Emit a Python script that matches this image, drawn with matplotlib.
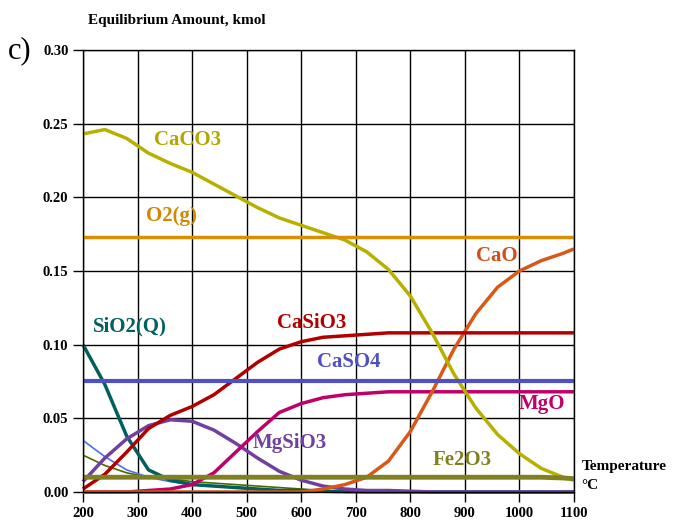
import matplotlib.pyplot as plt
import numpy as np

plt.rcParams['font.family'] = ['Liberation Serif', 'DejaVu Serif']

# temperature grid for the curves, C
T = [200, 240, 280, 320, 360, 400, 440, 480, 520, 560, 600, 640, 680, 720,
     760, 800, 840, 880, 920, 960, 1000, 1040, 1080, 1100]

caco3 = [0.243, 0.246, 0.240, 0.230, 0.223, 0.217, 0.209, 0.201, 0.193, 0.186,
         0.181, 0.176, 0.171, 0.163, 0.151, 0.133, 0.108, 0.080, 0.057, 0.039,
         0.026, 0.016, 0.010, 0.008]
o2 = [0.173] * 24
cao = [0.0, 0.0, 0.0, 0.0, 0.0, 0.0, 0.0, 0.0, 0.0, 0.0, 0.0, 0.002, 0.005,
       0.010, 0.021, 0.041, 0.068, 0.097, 0.121, 0.139, 0.150, 0.157, 0.162, 0.165]
casio3 = [0.002, 0.012, 0.027, 0.043, 0.052, 0.058, 0.066, 0.077, 0.088, 0.097,
          0.102, 0.105, 0.106, 0.107, 0.108, 0.108, 0.108, 0.108, 0.108, 0.108,
          0.108, 0.108, 0.108, 0.108]
sio2 = [0.100, 0.073, 0.038, 0.015, 0.008, 0.005, 0.004, 0.003, 0.002, 0.001,
        0.001, 0.0005, 0.0002, 0, 0, 0, 0, 0, 0, 0, 0, 0, 0, 0]
caso4 = [0.075] * 24
mgo = [0.0, 0.0, 0.0, 0.001, 0.002, 0.005, 0.013, 0.027, 0.041, 0.054, 0.060,
       0.064, 0.066, 0.067, 0.068, 0.068, 0.068, 0.068, 0.068, 0.068, 0.068,
       0.068, 0.068, 0.068]
mgsio3 = [0.007, 0.023, 0.036, 0.045, 0.049, 0.048, 0.042, 0.033, 0.023, 0.014,
          0.008, 0.004, 0.002, 0.001, 0.001, 0.0005, 0, 0, 0, 0, 0, 0, 0, 0]
fe2o3 = [0.010] * 22 + [0.0095, 0.009]
minor_blue = [0.035, 0.024, 0.015, 0.010, 0.007, 0.005, 0.004, 0.003, 0.002,
              0.0015, 0.001, 0.0005, 0, 0, 0, 0, 0, 0, 0, 0, 0, 0, 0, 0]
minor_green = [0.025, 0.018, 0.013, 0.010, 0.009, 0.007, 0.006, 0.005, 0.004,
               0.003, 0.002, 0.001, 0.0005, 0, 0, 0, 0, 0, 0, 0, 0, 0, 0, 0]
zero_line = [0.0] * 24

series = [
    (zero_line, '#d088c8', 1.5),
    (minor_green, '#4a6a00', 1.2),
    (minor_blue, '#4870e8', 1.2),
    (sio2, '#006060', 2.5),
    (mgsio3, '#7040a0', 2.5),
    (mgo, '#c00068', 2.5),
    (cao, '#d85818', 2.5),
    (casio3, '#b00000', 2.5),
    (caco3, '#b8b000', 2.5),
    (fe2o3, '#808020', 3.5),
    (caso4, '#5050c0', 3),
    (o2, '#d89000', 2.5),
]

labels = [
    ('CaCO3', 392, 0.239, '#b0a800'),
    ('O2(g)', 363, 0.187, '#d08800'),
    ('CaO', 959, 0.160, '#d05018'),
    ('CaSiO3', 620, 0.115, '#b00000'),
    ('SiO2(Q)', 286, 0.112, '#006060'),
    ('CaSO4', 688, 0.088, '#5050c0'),
    ('MgO', 1041, 0.060, '#c00068'),
    ('MgSiO3', 579, 0.033, '#7040a0'),
    ('Fe2O3', 895, 0.022, '#808020'),
]

fig = plt.figure(figsize=(6.78, 5.29), dpi=100)
ax = fig.add_axes([0.1224, 0.070, 0.7242, 0.8355])

for y, c, lw in series:
    ax.plot(T, y, color=c, lw=lw, solid_capstyle='butt', clip_on=False)

for txt, x, y, c in labels:
    ax.text(x, y, txt, color=c, fontsize=15, fontweight='bold',
            ha='center', va='center')

ax.set_xlim(200, 1100)
ax.set_ylim(0, 0.30)
ax.set_xticks(np.arange(200, 1101, 100))
ax.set_yticks(np.arange(0, 0.301, 0.05))
ax.set_yticklabels(['%.2f' % v for v in np.arange(0, 0.301, 0.05)])
ax.grid(True, color='black', lw=1)
ax.set_axisbelow(True)
for s in ax.spines.values():
    s.set_color('black')
    s.set_linewidth(1)
ax.tick_params(length=7, width=1, color='black', labelsize=10.5)
for lab in ax.get_xticklabels() + ax.get_yticklabels():
    lab.set_fontweight('bold')

fig.text(0.130, 0.962, 'Equilibrium Amount, kmol', fontsize=11,
         fontweight='bold', va='center')
fig.text(0.012, 0.905, 'c)', fontsize=22, va='center')
fig.text(0.858, 0.118, 'Temperature', fontsize=11, fontweight='bold', va='center')
fig.text(0.858, 0.083, '°C', fontsize=11, fontweight='bold', va='center')

fig.savefig('out.png', dpi=100)
